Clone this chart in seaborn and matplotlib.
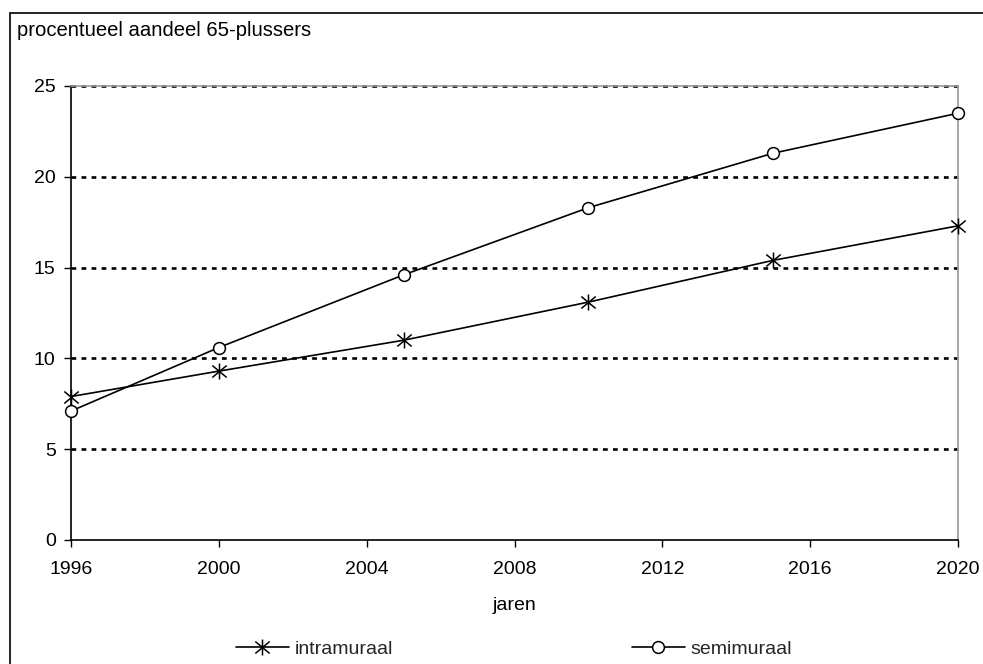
import matplotlib
matplotlib.use("Agg")
import matplotlib.pyplot as plt
from matplotlib.patches import Rectangle
from matplotlib.path import Path
import pandas as pd
import seaborn as sns

# Share of people aged 65+ (percent), by care setting
years = [1996, 2000, 2005, 2010, 2015, 2020]
intramuraal = [7.9, 9.3, 11.0, 13.1, 15.4, 17.3]
semimuraal = [7.1, 10.6, 14.6, 18.3, 21.3, 23.5]
series_names = ["intramuraal", "semimuraal"]
x_ticks = [1996, 2000, 2004, 2008, 2012, 2016, 2020]
y_ticks = [0, 5, 10, 15, 20, 25]

sns.set_theme(style="white")
plt.rcParams["font.family"] = ["Liberation Sans", "DejaVu Sans"]

df = pd.DataFrame({
    "jaar": years * 2,
    "aandeel": intramuraal + semimuraal,
    "reeks": [series_names[0]] * len(years) + [series_names[1]] * len(years),
})

# asterisk marker: vertical stroke plus an X
star = Path([(0, -1), (0, 1), (-0.9, -0.75), (0.9, 0.75), (-0.9, 0.75), (0.9, -0.75)],
            [Path.MOVETO, Path.LINETO] * 3)

fig = plt.figure(figsize=(9.83, 6.64), dpi=100)
ax = fig.add_axes([71 / 983, 1 - 540 / 664, (958 - 71) / 983, (540 - 86) / 664])

# outer chart-area frame
fig.patches.append(Rectangle((10 / 983, -0.05), 1.2, 1 - 13 / 664 + 0.05,
                             transform=fig.transFigure, fill=False,
                             edgecolor="black", linewidth=1.2, zorder=0))

# dotted horizontal gridlines
for yv in y_ticks[1:]:
    ax.axhline(yv, color="black", linestyle=(0, (1.8, 2.0)), linewidth=1.9, zorder=1)

sns.lineplot(data=df[df["reeks"] == "intramuraal"], x="jaar", y="aandeel", ax=ax,
             color="black", linewidth=1.2, marker=star, markersize=11.5,
             markeredgewidth=1.1, markeredgecolor="black", legend=False, zorder=3)
sns.lineplot(data=df[df["reeks"] == "semimuraal"], x="jaar", y="aandeel", ax=ax,
             color="black", linewidth=1.2, marker="o", markersize=8.5,
             markerfacecolor="white", markeredgewidth=1.1,
             markeredgecolor="black", legend=False, zorder=3)

ax.set_xlim(1996, 2020)
ax.set_ylim(0, 25)
ax.set_xticks(x_ticks)
ax.set_yticks(y_ticks)
ax.set_xlabel("jaren", fontsize=14, color="black", labelpad=14)
ax.set_ylabel("")
ax.tick_params(axis="both", direction="out", length=5, width=1, colors="black",
               labelsize=14, labelcolor="black")
ax.tick_params(axis="x", pad=10)
ax.tick_params(axis="y", pad=6)
ax.tick_params(left=True, bottom=True)

for side in ["left", "bottom"]:
    ax.spines[side].set_color("black")
    ax.spines[side].set_linewidth(1.2)
for side in ["right", "top"]:
    ax.spines[side].set_color("#999999")
    ax.spines[side].set_linewidth(1.2)
for ln in ax.lines:
    ln.set_clip_on(False)

fig.text(17 / 983, 1 - 31 / 664, "procentueel aandeel 65-plussers",
         fontsize=14.6, ha="left", va="center", color="black")

handles = [ln for ln in ax.lines if ln.get_marker() in (star, "o")]
fig.legend(handles, series_names, loc="center", bbox_to_anchor=(514 / 983, 1 - 649 / 664),
           ncol=2, frameon=False, fontsize=14, handlelength=2.7, handletextpad=0.3,
           columnspacing=12.3, borderaxespad=0, borderpad=0)

fig.savefig("out.png", dpi=100)
